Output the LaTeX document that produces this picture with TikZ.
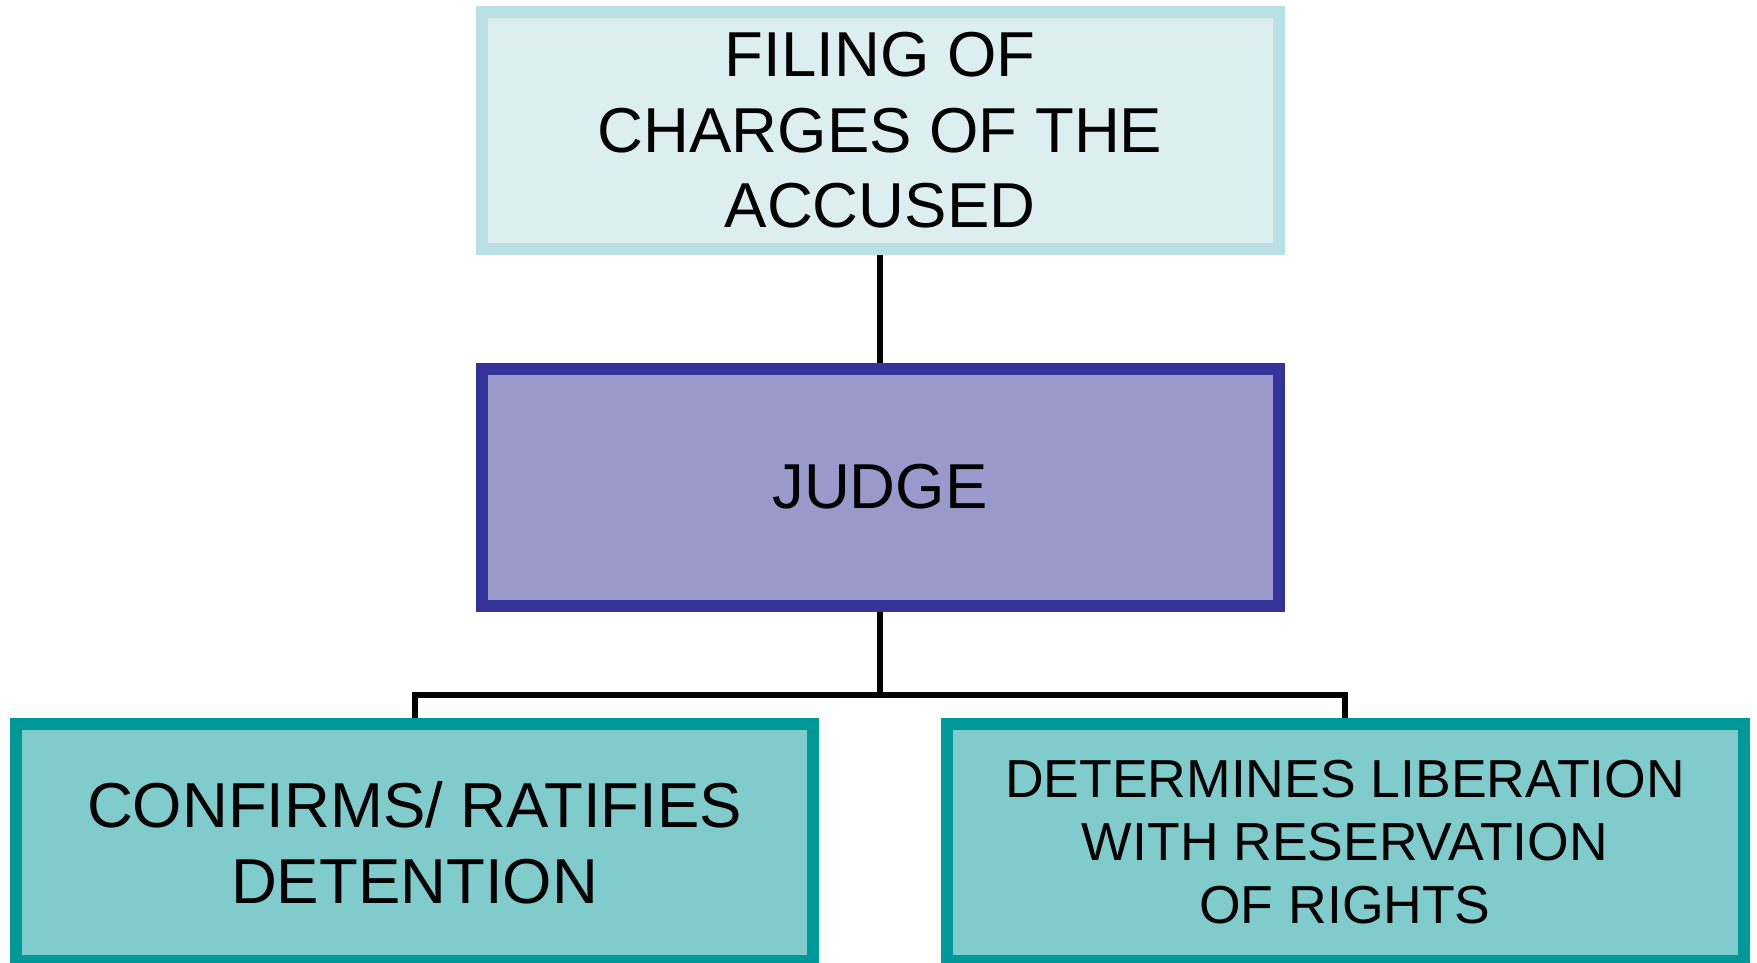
\documentclass[tikz,border=0pt]{standalone}
\usepackage{fontspec}
\setmainfont{Liberation Sans}
\definecolor{topfill}{HTML}{DDEEF0}
\definecolor{topdraw}{HTML}{BBE0E3}
\definecolor{judgefill}{HTML}{9999CC}
\definecolor{judgedraw}{HTML}{333399}
\definecolor{leaffill}{HTML}{80CBCB}
\definecolor{leafdraw}{HTML}{009999}
\tikzset{
  box/.style={rectangle, line width=12pt, minimum width=797pt, minimum height=237pt,
    align=center, inner sep=0pt, font=\fontsize{63.5}{75.6}\selectfont},
  topbox/.style={box, draw=topdraw, fill=topfill},
  judgebox/.style={box, draw=judgedraw, fill=judgefill},
  leafbox/.style={box, draw=leafdraw, fill=leaffill},
  smalltext/.style={font=\fontsize{53.5}{63}\selectfont},
  conn/.style={draw=black, line width=6pt}
}
\begin{document}
\begin{tikzpicture}[x=1pt,y=-1pt]
\useasboundingbox (0,0) rectangle (1757,963);
\node[topbox] (filing) at (880,130.5) {FILING OF\\CHARGES OF THE\\ACCUSED};
\node[judgebox] (judge) at (880,487) {JUDGE};
\node[leafbox] (confirm) at (414.5,842.5) {CONFIRMS/ RATIFIES\\DETENTION};
\node[leafbox, smalltext] (liberate) at (1345,842.5) {DETERMINES LIBERATION\\WITH RESERVATION\\OF RIGHTS};
\coordinate (bus) at (880,694.7);
\draw[conn] (filing.south) -- (judge.north);
\draw[conn] (judge.south) -- (bus) -| (confirm.north);
\draw[conn] (bus) -| (liberate.north);
\end{tikzpicture}
\end{document}
